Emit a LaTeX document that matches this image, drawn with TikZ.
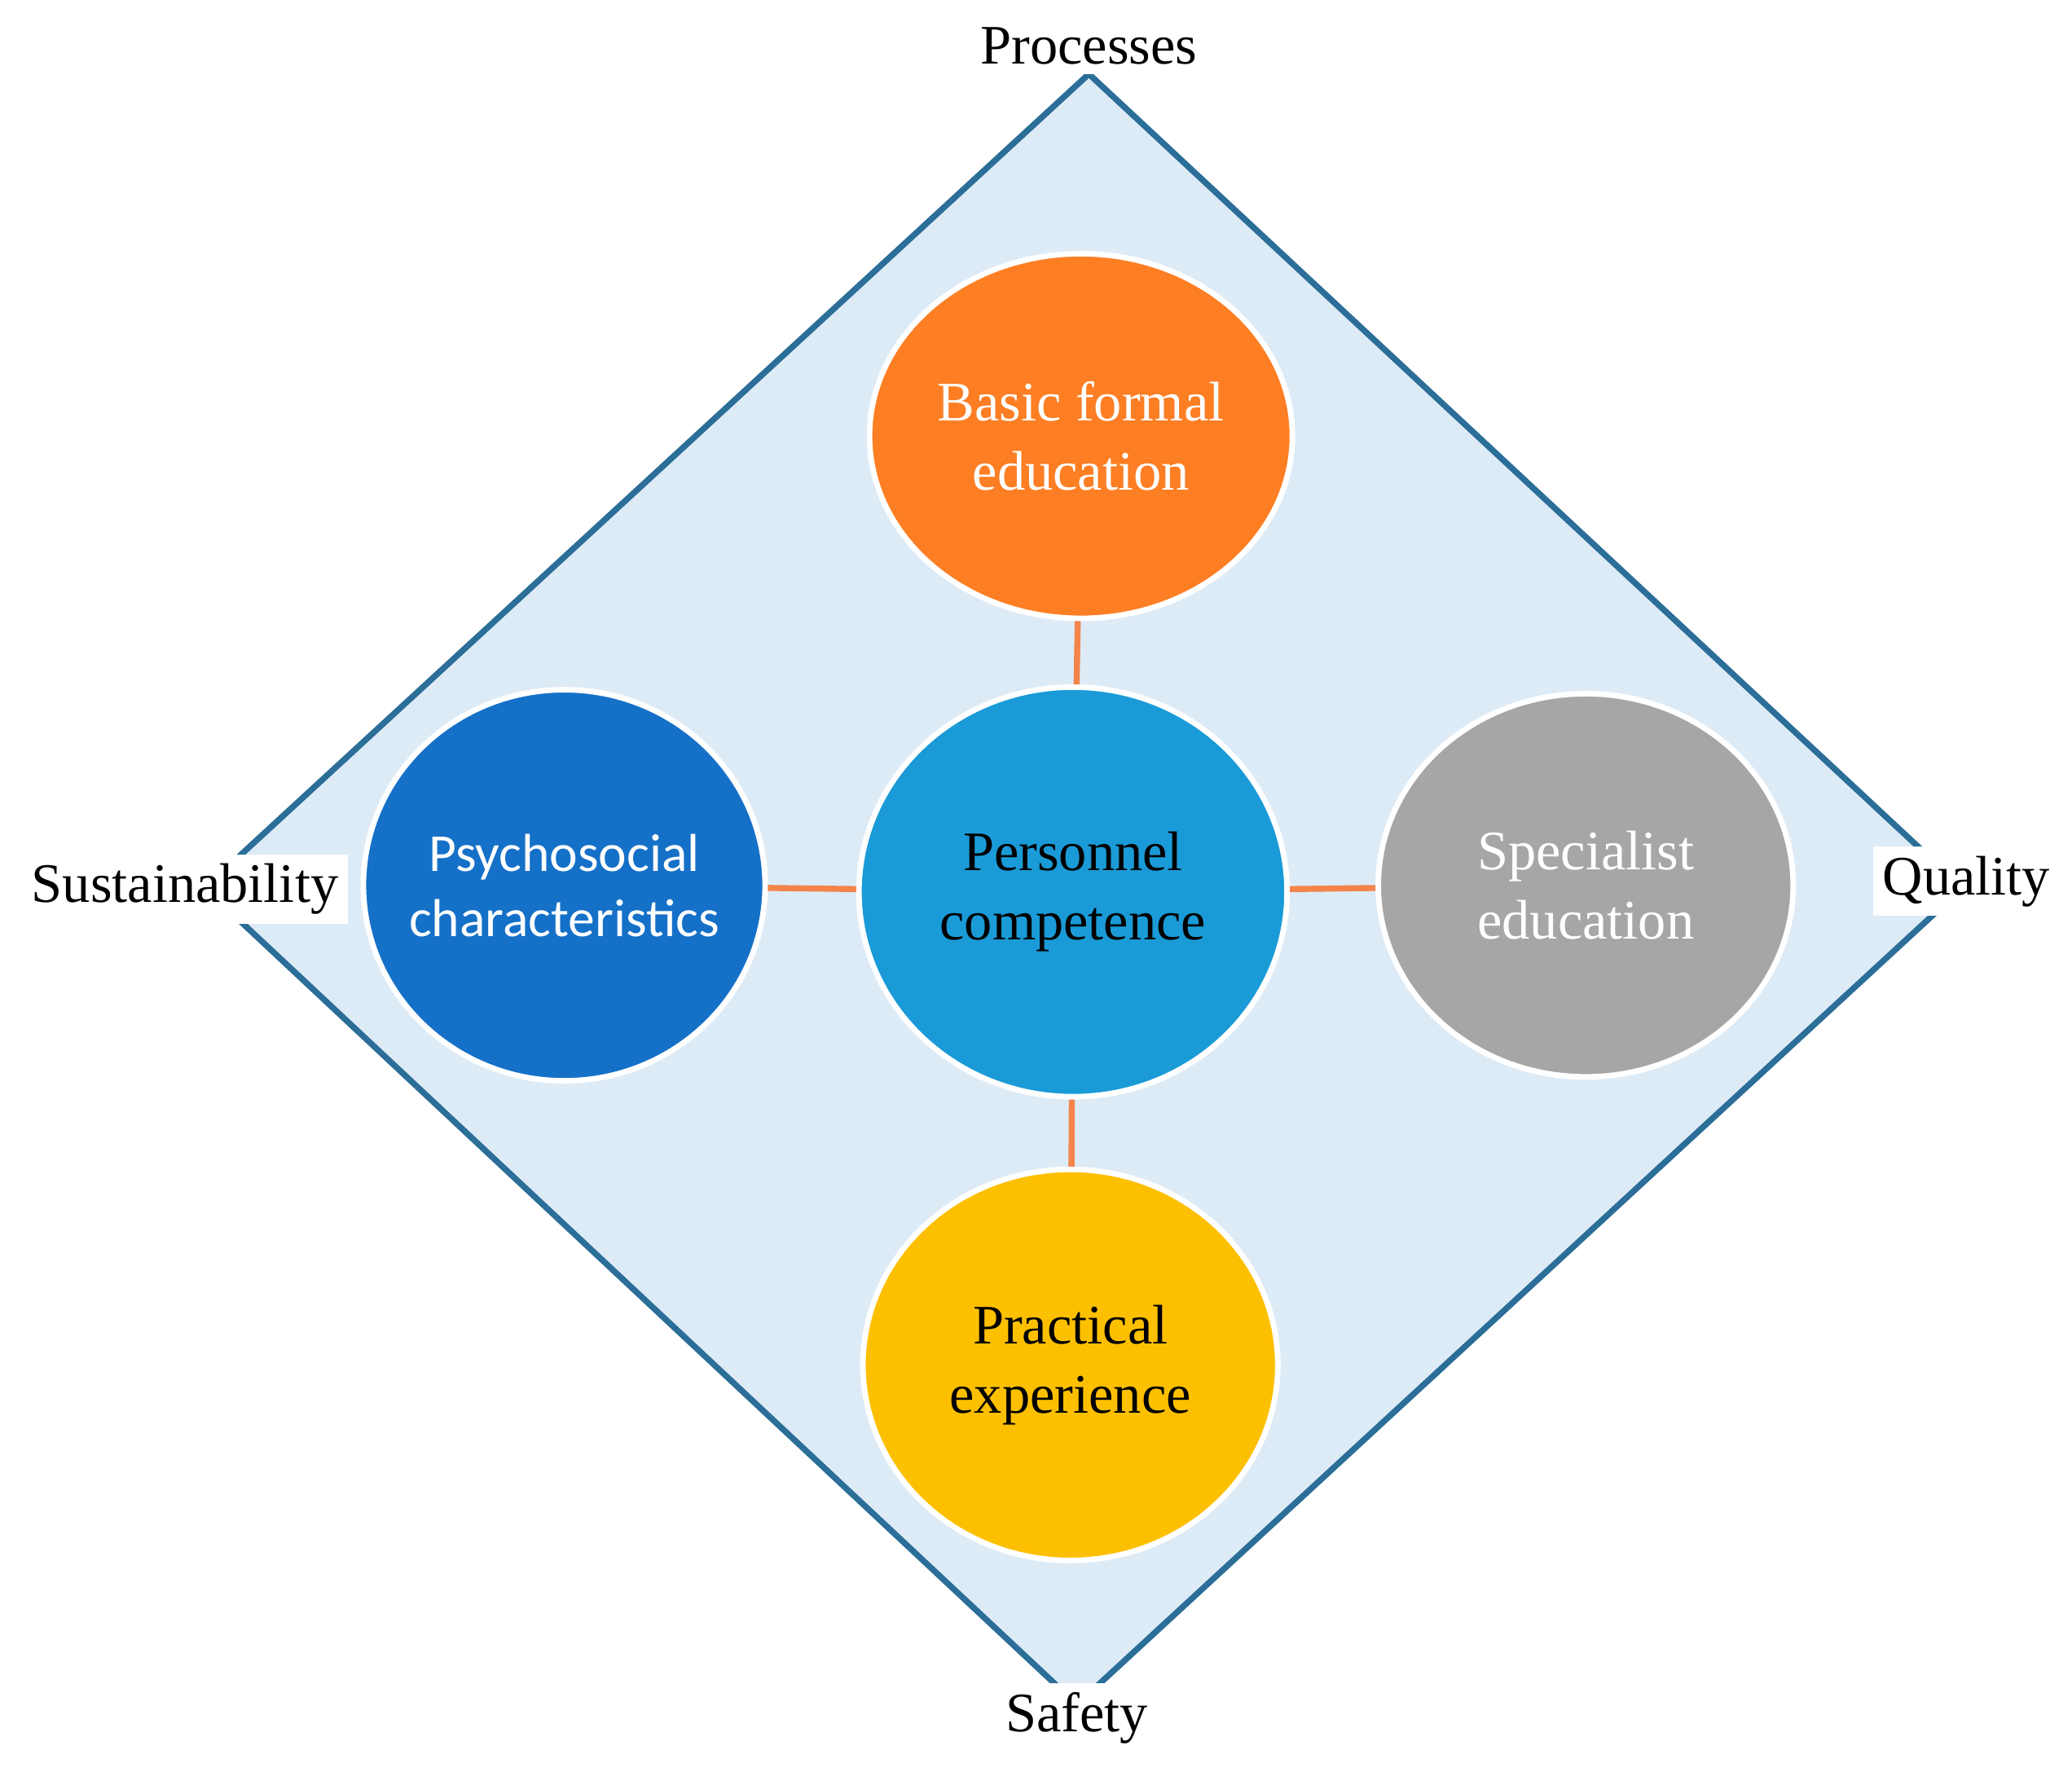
\documentclass[tikz,border=0pt]{standalone}
\usepackage{fontspec}
\setmainfont{Liberation Serif}
\newfontfamily\sansfam{Carlito}
\usetikzlibrary{shapes.geometric}
\definecolor{diafill}{HTML}{DDEBF7}
\definecolor{diaedge}{HTML}{2B6E98}
\definecolor{corange}{HTML}{FD7E23}
\definecolor{ccentre}{HTML}{1A9BD7}
\definecolor{cleft}{HTML}{1570C8}
\definecolor{cgrey}{HTML}{A6A6A6}
\definecolor{cyellow}{HTML}{FDC000}
\definecolor{link}{HTML}{F4844A}
\tikzset{
	blob/.style={ellipse, draw=white, line width=1.2pt, inner sep=-12pt, align=center, font=\fontsize{12}{15}\selectfont},
	corner/.style={fill=white, inner sep=2pt, font=\fontsize{12}{14}\selectfont},
	link/.style={draw=link, line width=1.3pt}
}
\begin{document}
\begin{tikzpicture}
	\useasboundingbox (0,0) rectangle (15.68,13.41);
	\draw [fill=diafill, draw=diaedge, line width=1.3pt] (8.24,12.85) -- (14.85,6.69) -- (8.15,0.51) -- (1.55,6.69) -- cycle;

	\node [blob, fill=corange, text=white, minimum width=3.2cm, minimum height=2.76cm] (basic) at (8.18,10.11) {Basic formal\\education};
	\node [blob, fill=ccentre, minimum width=3.24cm, minimum height=3.1cm] (core) at (8.12,6.66) {Personnel\\competence};
	\node [blob, fill=cleft, text=white, minimum width=3.04cm, minimum height=2.96cm, font=\sansfam\fontsize{11.5}{14}\selectfont] (psycho) at (4.27,6.71) {Psychosocial\\characteristics};
	\node [blob, fill=cgrey, text=white, minimum width=3.14cm, minimum height=2.9cm] (spec) at (12.0,6.71) {Specialist\\education};
	\node [blob, fill=cyellow, minimum width=3.14cm, minimum height=2.96cm] (pract) at (8.10,3.08) {Practical\\experience};

	\draw [link] (basic) -- (core);
	\draw [link] (core) -- (psycho);
	\draw [link] (core) -- (spec);
	\draw [link] (core) -- (pract);

	\node [corner] (proc) at (8.24,13.06) {Processes};
	\node [corner] (sust) at (1.40,6.68) {Sustainability};
	\node [corner] (qual) at (14.88,6.74) {Quality};
	\node [corner] (safe) at (8.15,0.41) {Safety};
\end{tikzpicture}
\end{document}
